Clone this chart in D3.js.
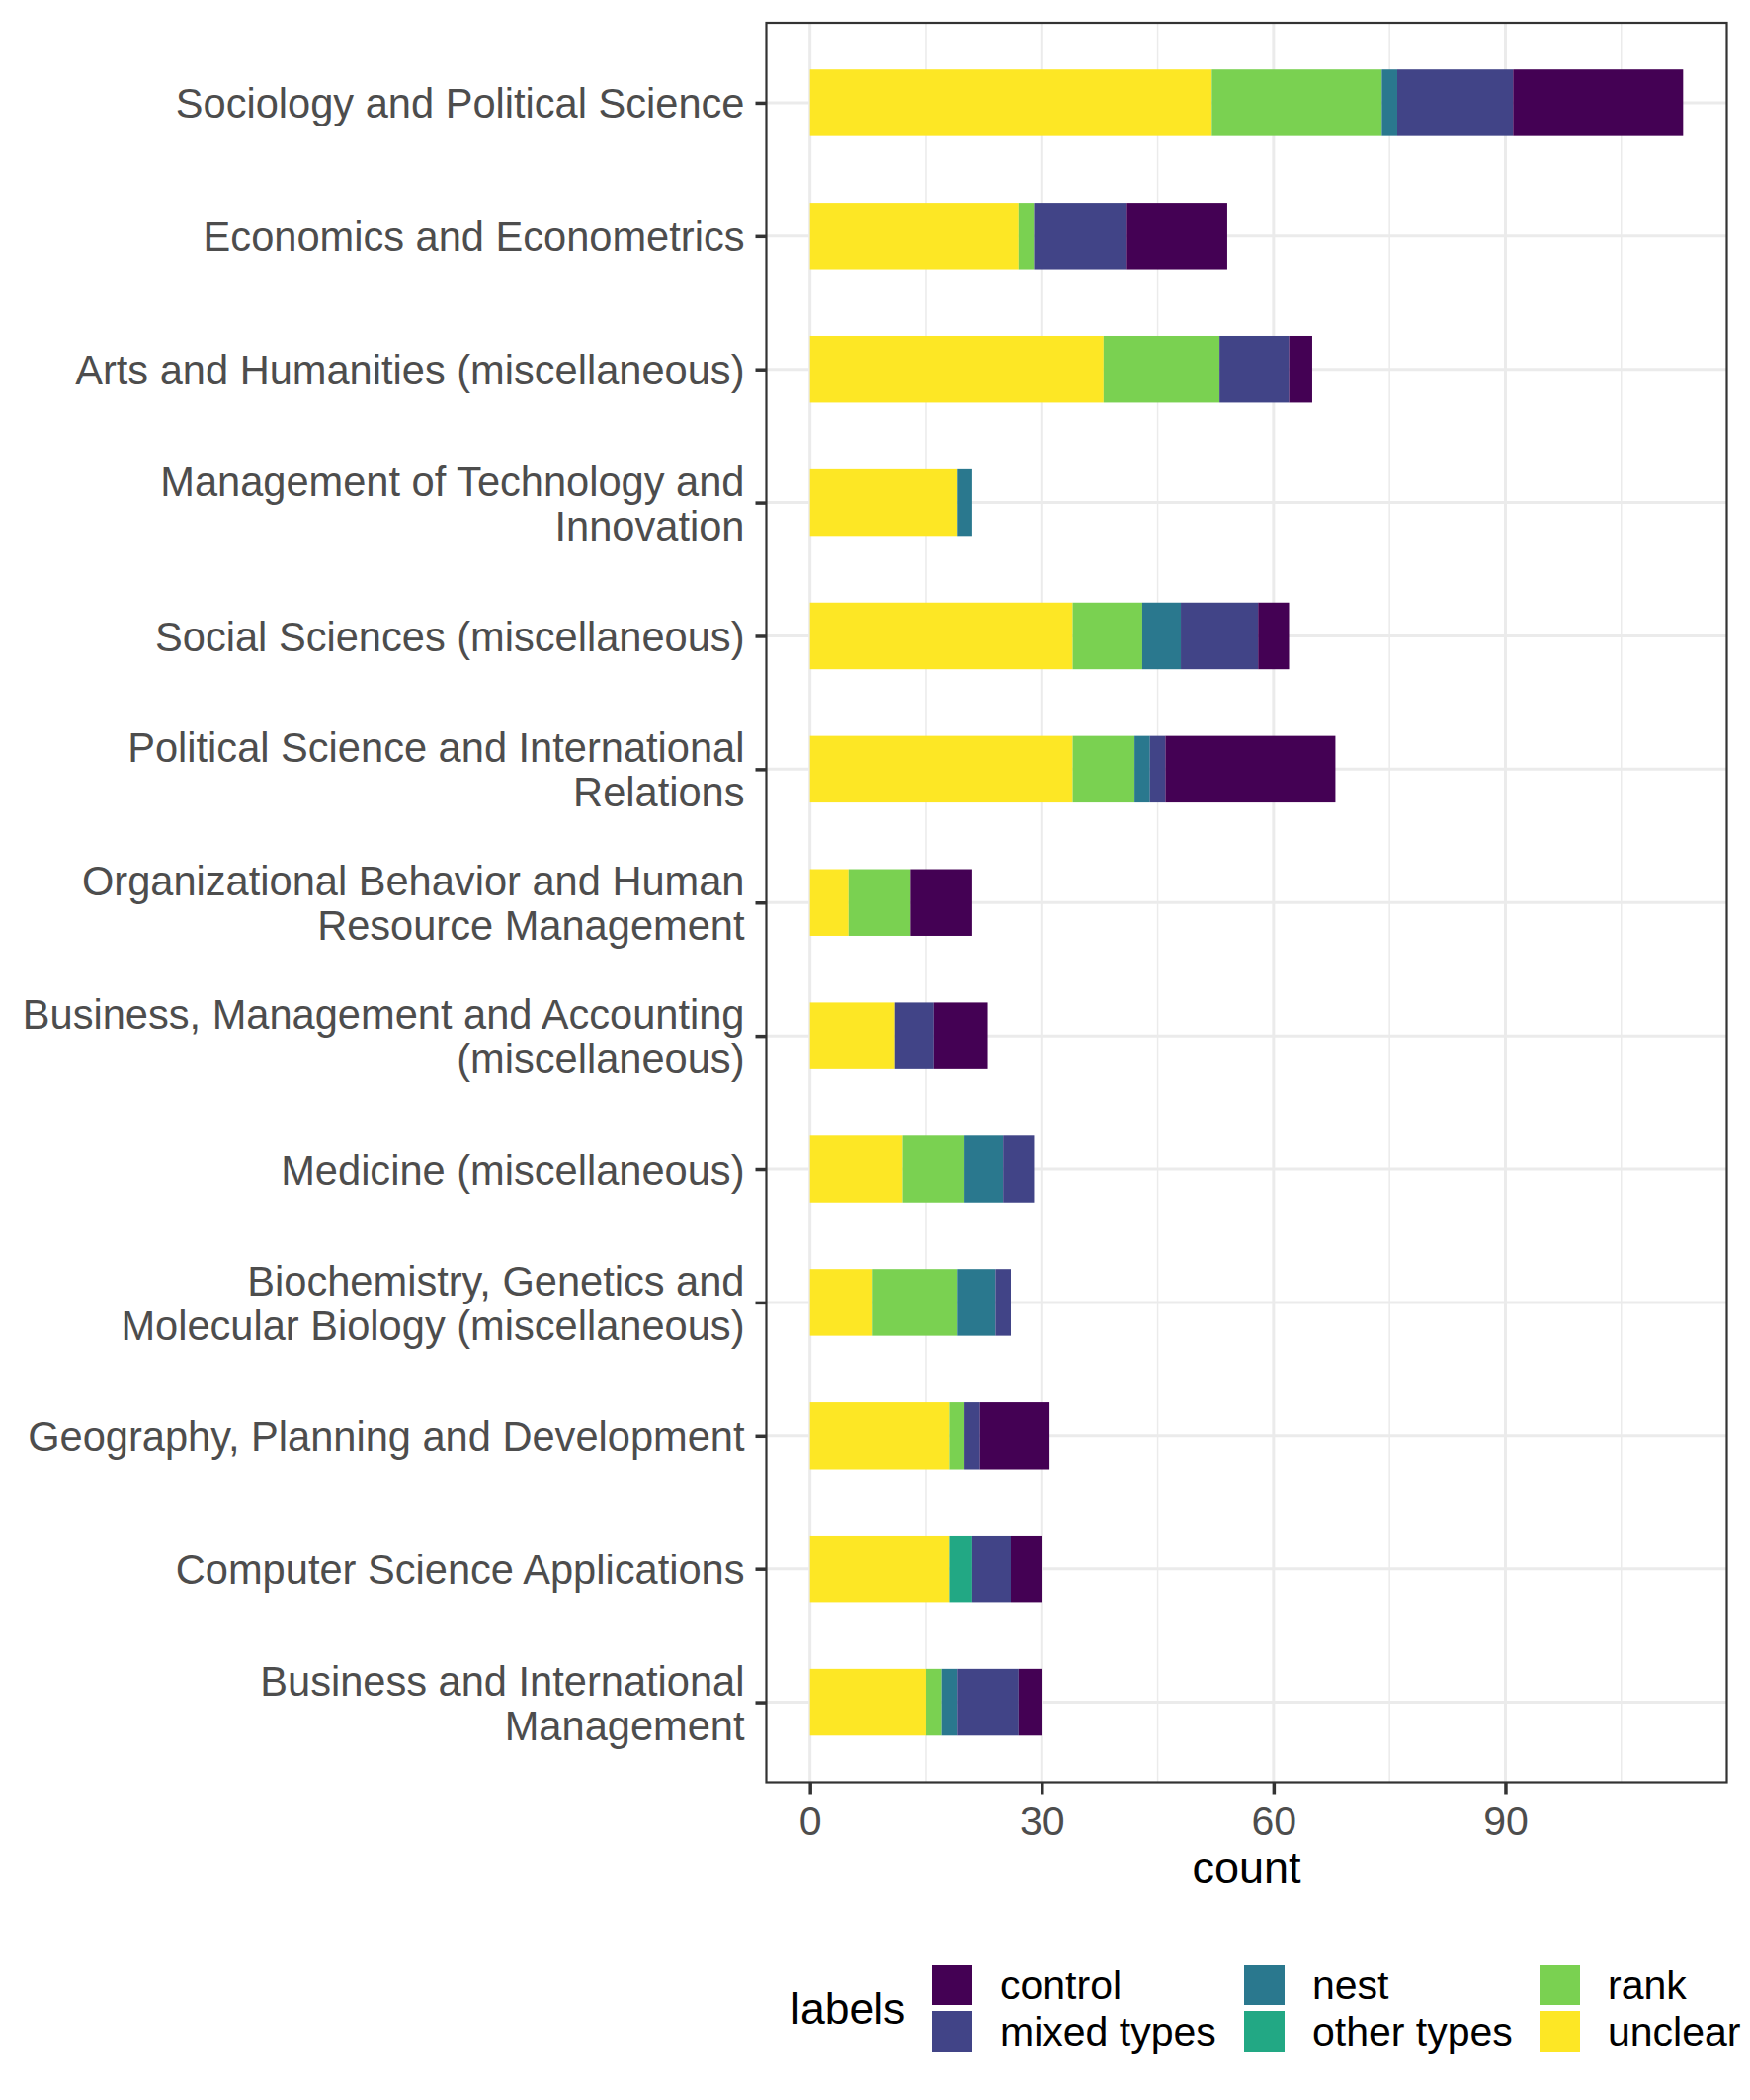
<!DOCTYPE html>
<html>
<head>
<meta charset="utf-8">
<script src="https://cdn.jsdelivr.net/npm/d3@7"></script>
<style>
  html, body { margin: 0; padding: 0; background: #fff; }
  svg { display: block; font-family: "Liberation Sans", Arial, Helvetica, sans-serif; }
</style>
</head>
<body>
<svg id="chart" width="1771" height="2125"></svg>
<script>
// ---- data ----
const categories = [
  "Sociology and Political Science",
  "Economics and Econometrics",
  "Arts and Humanities (miscellaneous)",
  "Management of Technology and\nInnovation",
  "Social Sciences (miscellaneous)",
  "Political Science and International\nRelations",
  "Organizational Behavior and Human\nResource Management",
  "Business, Management and Accounting\n(miscellaneous)",
  "Medicine (miscellaneous)",
  "Biochemistry, Genetics and\nMolecular Biology (miscellaneous)",
  "Geography, Planning and Development",
  "Computer Science Applications",
  "Business and International\nManagement"
];
const unclear = [52, 27, 38, 19, 34, 34, 5, 11, 12, 8, 18, 18, 15];
const rank    = [22,  2, 15,  0,  9,  8, 8,  0,  8, 11,  2,  0,  2];
const other   = [ 0,  0,  0,  0,  0,  0, 0,  0,  0,  0,  0,  3,  0];
const nest    = [ 2,  0,  0,  2,  5,  2, 0,  0,  5,  5,  0,  0,  2];
const mixed   = [15, 12,  9,  0, 10,  2, 0,  5,  4,  2,  2,  5,  8];
const control = [22, 13,  3,  0,  4, 22, 8,  7,  0,  0,  9,  4,  3];

const seriesKeys   = ["unclear", "rank", "other types", "nest", "mixed types", "control"];
const seriesValues = [unclear, rank, other, nest, mixed, control];
const seriesColors = ["#FDE725", "#7AD151", "#22A884", "#2A788E", "#414487", "#440154"];
const legendOrder  = ["control", "mixed types", "nest", "other types", "rank", "unclear"];
const xTicks = [0, 30, 60, 90];
const xMinorTicks = [15, 45, 75, 105];

// ---- layout ----
const svg = d3.select("#chart");
const panel = { left: 775.5, right: 1747.5, top: 23, bottom: 1803.5 };

const rows = categories.map((c, i) => {
  const r = { category: c };
  seriesKeys.forEach((k, j) => r[k] = seriesValues[j][i]);
  return r;
});
const maxTotal = d3.max(rows, r => d3.sum(seriesKeys, k => r[k]));
const pad = maxTotal * 0.05;

const x = d3.scaleLinear().domain([-pad, maxTotal + pad]).range([panel.left, panel.right]);
const y = d3.scalePoint().domain(categories).range([panel.top, panel.bottom]).padding(0.6);
const barH = y.step() * 0.5;
const color = d3.scaleOrdinal().domain(seriesKeys).range(seriesColors);

// panel background
svg.append("rect").attr("x", panel.left).attr("y", panel.top)
  .attr("width", panel.right - panel.left).attr("height", panel.bottom - panel.top)
  .attr("fill", "#fff");

// minor grid
svg.append("g").selectAll("line").data(xMinorTicks.filter(t => x(t) < panel.right)).join("line")
  .attr("x1", d => x(d)).attr("x2", d => x(d))
  .attr("y1", panel.top).attr("y2", panel.bottom)
  .attr("stroke", "#EBEBEB").attr("stroke-width", 1.5);
// major grid vertical
svg.append("g").selectAll("line").data(xTicks).join("line")
  .attr("x1", d => x(d)).attr("x2", d => x(d))
  .attr("y1", panel.top).attr("y2", panel.bottom)
  .attr("stroke", "#EBEBEB").attr("stroke-width", 3);
// major grid horizontal
svg.append("g").selectAll("line").data(categories).join("line")
  .attr("x1", panel.left).attr("x2", panel.right)
  .attr("y1", d => y(d)).attr("y2", d => y(d))
  .attr("stroke", "#EBEBEB").attr("stroke-width", 3);

// bars
const stack = d3.stack().keys(seriesKeys);
const stacked = stack(rows);
svg.append("g").selectAll("g").data(stacked).join("g")
  .attr("fill", d => color(d.key))
  .selectAll("rect").data(d => d.filter(s => s[1] - s[0] > 0)).join("rect")
  .attr("x", d => x(d[0]))
  .attr("width", d => x(d[1]) - x(d[0]))
  .attr("y", d => y(d.data.category) - barH / 2)
  .attr("height", barH);

// panel border
svg.append("rect").attr("x", panel.left).attr("y", panel.top)
  .attr("width", panel.right - panel.left).attr("height", panel.bottom - panel.top)
  .attr("fill", "none").attr("stroke", "#333333").attr("stroke-width", 2.2);

// x axis
const xAxis = d3.axisBottom(x).tickValues(xTicks).tickSize(12).tickPadding(12).tickFormat(d3.format("d"));
const gx = svg.append("g").attr("transform", `translate(0,${panel.bottom})`).call(xAxis);
gx.select(".domain").remove();
gx.selectAll(".tick line").attr("stroke", "#333333").attr("stroke-width", 3.5);
gx.selectAll(".tick text").attr("fill", "#4D4D4D").attr("font-size", 41)
  .attr("font-family", "Liberation Sans, Arial, sans-serif").attr("dy", "0.72em");

// y axis
const yAxis = d3.axisLeft(y).tickSize(11).tickPadding(14).tickFormat("");
const gy = svg.append("g").attr("transform", `translate(${panel.left},0)`).call(yAxis);
gy.select(".domain").remove();
gy.selectAll(".tick line").attr("stroke", "#333333").attr("stroke-width", 3.5);
gy.selectAll(".tick text").each(function(d) {
  const t = d3.select(this);
  const lines = d.split("\n");
  const lh = 45;
  t.text(null).attr("fill", "#4D4D4D").attr("font-size", 41.6)
    .attr("font-family", "Liberation Sans, Arial, sans-serif")
    .attr("text-anchor", "end").attr("dy", null);
  lines.forEach((ln, i) => {
    t.append("tspan").attr("x", -22)
      .attr("y", (i - (lines.length - 1) / 2) * lh)
      .attr("dy", "0.36em").text(ln);
  });
});

// x axis title
svg.append("text").attr("x", (panel.left + panel.right) / 2).attr("y", 1905)
  .attr("text-anchor", "middle").attr("font-size", 45).attr("fill", "#000")
  .text("count");

// legend
const lg = svg.append("g");
lg.append("text").attr("x", 800).attr("y", 2048).attr("font-size", 44.5).attr("fill", "#000").text("labels");
const colX = [943, 1259, 1558];
const rowY = [1988, 2035];
legendOrder.forEach((k, i) => {
  const cx = colX[Math.floor(i / 2)];
  const ry = rowY[i % 2];
  lg.append("rect").attr("x", cx).attr("y", ry).attr("width", 41).attr("height", 41).attr("fill", color(k));
  lg.append("text").attr("x", cx + 69).attr("y", ry + 35).attr("font-size", 41).attr("fill", "#000").text(k);
});
</script>
</body>
</html>
